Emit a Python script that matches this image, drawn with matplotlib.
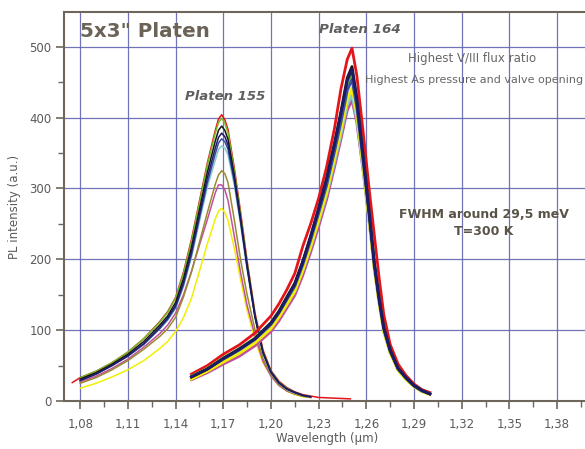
import numpy as np
import matplotlib
matplotlib.use("Agg")
import matplotlib.pyplot as plt
from matplotlib.ticker import MultipleLocator, FuncFormatter

# ---------------- data ----------------
nan = np.nan
wl_155 = [1.075, 1.08, 1.09, 1.10, 1.11, 1.12, 1.13, 1.135, 1.14, 1.145, 1.15, 1.155, 1.16,
          1.165, 1.167, 1.169, 1.171, 1.173, 1.177, 1.181, 1.185, 1.19, 1.195, 1.20, 1.205,
          1.21, 1.215, 1.22, 1.225, 1.23, 1.24, 1.25]
p155_red     = [26, 33, 42, 54, 69, 88, 112, 126, 146, 182, 228, 282, 336, 382, 398, 404, 397, 383, 328, 265, 198, 124, 72, 43, 28, 19, 13, 9, 7, 5, 4, 3]
p155_green   = [nan, 33, 42, 54, 69, 88, 111, 125, 145, 180, 225, 279, 333, 378, 393, 399, 392, 378, 324, 261, 195, 121, 70, 42, 27, 18, 12, 8, 6, nan, nan, nan]
p155_black   = [nan, 31, 40, 52, 66, 84, 107, 120, 139, 173, 217, 270, 323, 367, 382, 388, 382, 369, 318, 257, 192, 120, 69, 41, 26, 17, 12, 8, 6, nan, nan, nan]
p155_navy    = [nan, 29, 38, 50, 64, 81, 104, 117, 135, 168, 211, 263, 315, 357, 372, 378, 373, 361, 313, 254, 190, 119, 68, 41, 26, 17, 12, 8, 6, nan, nan, nan]
p155_blue    = [nan, 29, 38, 50, 63, 80, 102, 115, 132, 164, 206, 258, 308, 349, 364, 370, 366, 355, 309, 251, 188, 118, 68, 40, 25, 17, 12, 8, 6, nan, nan, nan]
p155_cyan    = [nan, 30, 39, 50, 64, 80, 102, 114, 131, 162, 203, 253, 302, 340, 355, 360, 357, 347, 304, 248, 186, 117, 67, 40, 25, 16, 11, 8, 6, nan, nan, nan]
p155_olive   = [nan, 25, 33, 44, 57, 73, 91, 102, 118, 147, 182, 224, 266, 306, 319, 325, 321, 308, 255, 198, 150, 100, 60, 37, 23, 15, 10, 7, 5, nan, nan, nan]
p155_magenta = [nan, 27, 35, 46, 59, 76, 95, 107, 124, 150, 183, 220, 256, 294, 305, 305, 298, 283, 232, 180, 135, 92, 56, 35, 22, 14, 10, 7, 5, nan, nan, nan]
p155_yellow  = [nan, 18, 25, 34, 44, 57, 74, 84, 98, 118, 145, 183, 222, 257, 268, 272, 266, 255, 215, 170, 128, 86, 54, 36, 22, 14, 9, 6, 5, nan, nan, nan]

wl_164 = [1.15, 1.16, 1.17, 1.18, 1.19, 1.20, 1.205, 1.21, 1.215, 1.22, 1.225, 1.23, 1.235,
          1.24, 1.244, 1.248, 1.251, 1.254, 1.258, 1.262, 1.265, 1.268, 1.271, 1.275,
          1.28, 1.285, 1.29, 1.295, 1.30]
p164_red     = [38, 50, 66, 79, 96, 120, 137, 157, 180, 218, 250, 286, 330, 385, 440, 482, 498, 460, 380, 295, 235, 175, 122, 80, 52, 36, 24, 16, 12]
p164_magenta = [30, 40, 52, 63, 78, 98, 113, 131, 149, 177, 210, 246, 284, 330, 369, 410, 425, 393, 325, 250, 188, 140, 99, 69, 44, 31, 21, 14, 10]
p164_cyan    = [32, 43, 56, 68, 83, 104, 119, 137, 155, 184, 217, 253, 291, 337, 376, 418, 432, 398, 327, 250, 188, 140, 99, 69, 44, 31, 21, 14, 10]
p164_yellow  = [31, 42, 55, 67, 82, 102, 118, 136, 155, 184, 218, 255, 294, 342, 382, 426, 442, 405, 330, 250, 186, 138, 97, 67, 43, 30, 20, 13, 9]
p164_green   = [35, 46, 61, 74, 89, 111, 127, 147, 166, 196, 231, 269, 309, 358, 400, 446, 463, 422, 343, 260, 194, 144, 102, 71, 46, 32, 22, 15, 10]
p164_blue    = [34, 45, 59, 72, 87, 108, 124, 143, 162, 192, 227, 265, 304, 352, 393, 438, 454, 415, 338, 257, 192, 143, 101, 70, 45, 32, 21, 14, 10]
p164_black   = [34, 45, 60, 73, 88, 110, 126, 146, 166, 197, 233, 272, 314, 364, 408, 456, 472, 428, 347, 263, 196, 146, 104, 72, 46, 33, 22, 15, 10]
p164_navy    = [34, 45, 60, 73, 88, 110, 126, 146, 165, 196, 232, 271, 312, 362, 405, 452, 468, 425, 345, 262, 195, 145, 103, 72, 46, 33, 22, 15, 10]

x_ticks = [1.08, 1.11, 1.14, 1.17, 1.20, 1.23, 1.26, 1.29, 1.32, 1.35, 1.38]
y_ticks = [0, 100, 200, 300, 400, 500]

# ---------------- styling ----------------
C = {
    "red": "#e3151b", "green": "#78bd25", "black": "#161616", "navy": "#1d1b66",
    "blue": "#3b4ea6", "cyan": "#86cccc", "olive": "#9a8b2e", "magenta": "#c0529c",
    "yellow": "#f2ef00",
}
spine_col = "#6e665c"
text_col = "#5a5a5a"
grid_col = "#6464b0"

fig = plt.figure(figsize=(5.85, 4.49), dpi=100)
ax = fig.add_axes([64 / 585, 1 - 401 / 449, 1 - 64 / 585, (401 - 12) / 449])

series155 = [
    (p155_red, "red"), (p155_yellow, "yellow"), (p155_magenta, "magenta"),
    (p155_olive, "olive"), (p155_cyan, "cyan"), (p155_green, "green"),
    (p155_blue, "blue"), (p155_black, "black"), (p155_navy, "navy"),
]
for ys, c in series155:
    ax.plot(wl_155, np.array(ys, dtype=float), color=C[c], lw=1.1, zorder=3)

series164 = [
    (p164_red, "red"), (p164_magenta, "magenta"), (p164_cyan, "cyan"),
    (p164_yellow, "yellow"), (p164_green, "green"), (p164_blue, "blue"),
    (p164_black, "black"), (p164_navy, "navy"),
]
for ys, c in series164:
    ax.plot(wl_164, np.array(ys, dtype=float), color=C[c], lw=2.0, zorder=4)

ax.set_xlim(1.0698, 1.3976)
ax.set_ylim(0, 549)
ax.set_xticks(x_ticks)
ax.set_yticks(y_ticks)
ax.xaxis.set_minor_locator(MultipleLocator(0.015))
ax.yaxis.set_minor_locator(MultipleLocator(50))
ax.xaxis.set_major_formatter(FuncFormatter(lambda v, p: f"{v:.2f}".replace(".", ",")))

ax.grid(True, which="major", color=grid_col, lw=0.9, alpha=0.9, zorder=1)
ax.set_axisbelow(True)

for s in ["left", "bottom", "top"]:
    ax.spines[s].set_color(spine_col)
    ax.spines[s].set_linewidth(1.5)
ax.spines["right"].set_visible(False)

ax.tick_params(axis="both", which="major", direction="out", length=6, width=1.2,
               color=spine_col, labelcolor=text_col, labelsize=8.5)
ax.tick_params(axis="both", which="minor", direction="out", length=4, width=1.0,
               color=spine_col)
ax.tick_params(axis="x", pad=6)
ax.tick_params(axis="y", pad=3)

ax.set_xlabel("Wavelength (µm)", fontsize=8.5, color=text_col)
ax.xaxis.set_label_coords((327 - 64) / (585 - 64), -(432 - 401) / 389)
ax.set_ylabel("PL intensity (a.u.)", fontsize=8.5, color=text_col, labelpad=6)

# ---------------- annotations (figure pixel coords) ----------------
def fx(px):
    return px / 585

def fy(py):
    return 1 - py / 449

fig.text(fx(80), fy(37), "5x3\" Platen", fontsize=14.3, fontweight="bold",
         color="#6b6358", ha="left", va="baseline")
fig.text(fx(185), fy(100), "Platen 155", fontsize=9.5, fontweight="bold",
         fontstyle="italic", color="#5f5f5f", ha="left", va="baseline")
fig.text(fx(319), fy(33), "Platen 164", fontsize=9.7, fontweight="bold",
         fontstyle="italic", color="#5f5f5f", ha="left", va="baseline")
fig.text(fx(472), fy(62), "Highest V/III flux ratio", fontsize=8.5, color="#666666",
         ha="center", va="baseline")
fig.text(fx(583), fy(83), "Highest As pressure and valve opening", fontsize=8,
         color="#666666", ha="right", va="baseline")
fig.text(fx(484), fy(218), "FWHM around 29,5 meV", fontsize=9, fontweight="bold",
         color="#5a5448", ha="center", va="baseline")
fig.text(fx(484), fy(235), "T=300 K", fontsize=9, fontweight="bold",
         color="#5a5448", ha="center", va="baseline")

fig.savefig("out.png", dpi=100)
